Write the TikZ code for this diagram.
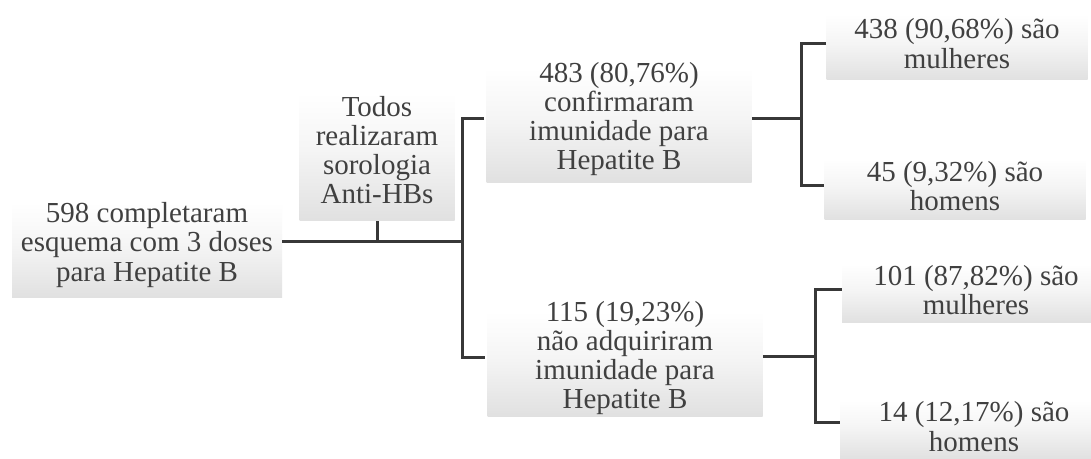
\documentclass[tikz,border=0pt]{standalone}
\usepackage{fontspec}
\setmainfont{Liberation Serif}
\pgfdeclareverticalshading{boxshade}{100bp}{color(0bp)=(black!19); color(25bp)=(black!12); color(50bp)=(black!4); color(70bp)=(white); color(100bp)=(white)}
\tikzset{
  gbox/.style={shading=boxshade, draw=none, inner sep=0pt, align=center,
    text=black!75, font=\fontsize{14.5}{14.6}\selectfont},
  link/.style={draw=black!78, line width=1.5pt}
}
\begin{document}
\begin{tikzpicture}[x=0.5pt,y=-0.5pt]
\clip (0,0) rectangle (1091,459);
\fill[white] (0,0) rectangle (1091,459);
% boxes
\node[gbox, minimum width=135pt, minimum height=53pt] (b1) at (147,245)
  {598 completaram\\esquema com 3 doses\\para Hepatite B};
\node[gbox, minimum width=77.5pt, minimum height=71pt] (ta) at (377,150)
  {Todos\\realizaram\\sorologia\\Anti-HBs};
\node[gbox, minimum width=132.5pt, minimum height=64pt] (b2) at (619,119)
  {483 (80,76\%)\\confirmaram\\imunidade para\\Hepatite B};
\node[gbox, minimum width=137.5pt, minimum height=58pt] (b3) at (625,358)
  {115 (19,23\%)\\não adquiriram\\imunidade para\\Hepatite B};
\node[gbox, minimum width=130.5pt, minimum height=36.5pt] (m1) at (957,43.5)
  {438 (90,68\%) são\\mulheres};
\node[gbox, minimum width=130.5pt, minimum height=34pt] (h1) at (955,186)
  {45 (9,32\%) são\\homens};
\node[gbox, minimum width=134pt, minimum height=32.5pt] (m2) at (976,290)
  {101 (87,82\%) são\\mulheres};
\node[gbox, minimum width=134pt, minimum height=32.5pt] (h2) at (974,426.5)
  {14 (12,17\%) são\\homens};
% junctions
\coordinate (j1) at (462,242);
\coordinate (j2) at (801,119);
\coordinate (j3) at (815,357);
% connectors
\draw[link] (b1.east |- j1) -- (j1);
\draw[link] (ta.south) -- (ta.south |- j1);
\draw[link] ([xshift=-1pt]b2.west) -| (j1) |- ([xshift=-1pt]b3.west);
\draw[link] (b2.east |- j2) -- (j2);
\draw[link] (m1.west) -| (j2) |- (h1.west);
\draw[link] (b3.east |- j3) -- (j3);
\draw[link] (m2.west) -| (j3) |- ([yshift=2pt]h2.west);
\end{tikzpicture}
\end{document}
